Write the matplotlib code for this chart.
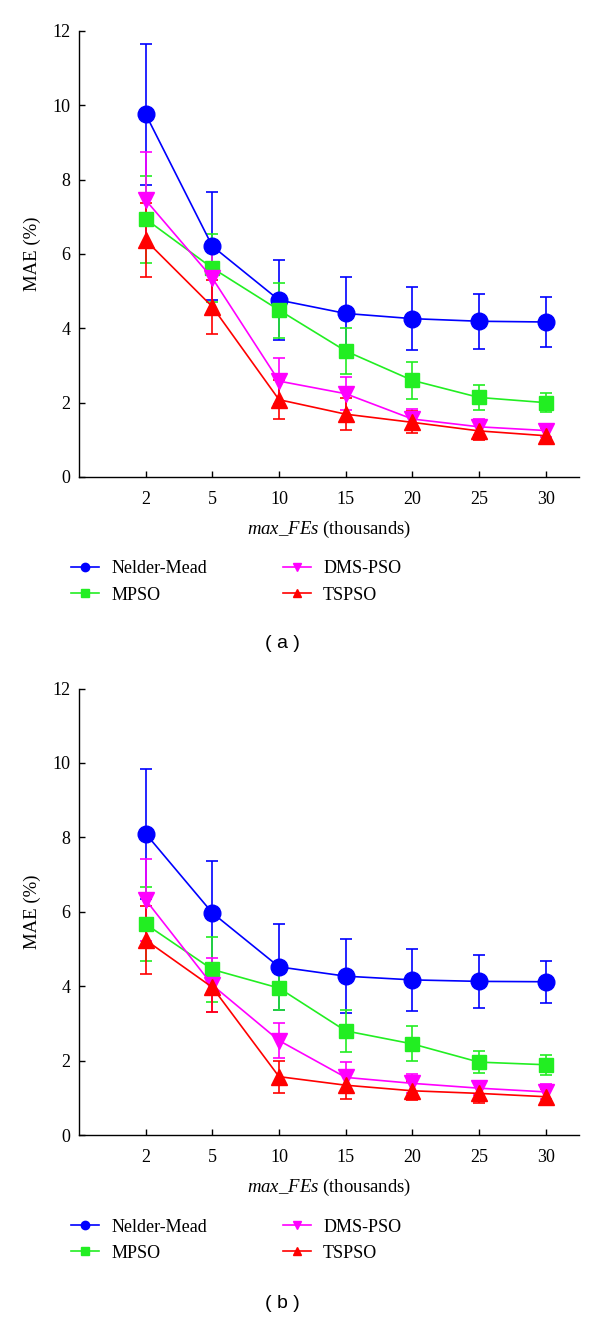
import matplotlib
matplotlib.use("Agg")
import matplotlib.pyplot as plt
import numpy as np

plt.rcParams['font.family'] = ['Liberation Serif', 'DejaVu Serif']
plt.rcParams['mathtext.fontset'] = 'custom'
plt.rcParams['mathtext.it'] = 'Liberation Serif:italic'
plt.rcParams['mathtext.rm'] = 'Liberation Serif'

categories = ['2', '5', '10', '15', '20', '25', '30']
series_names = ['Nelder-Mead', 'MPSO', 'DMS-PSO', 'TSPSO']

# Panel (a)
a_nm = [9.76, 6.21, 4.76, 4.40, 4.26, 4.19, 4.17]
a_nm_err = [1.90, 1.45, 1.08, 0.98, 0.85, 0.74, 0.66]
a_mpso = [6.94, 5.62, 4.49, 3.39, 2.60, 2.14, 2.00]
a_mpso_err = [1.17, 0.92, 0.74, 0.63, 0.50, 0.33, 0.25]
a_dms = [7.45, 5.35, 2.58, 2.24, 1.56, 1.35, 1.25]
a_dms_err = [1.30, 0.95, 0.62, 0.45, 0.28, 0.22, 0.18]
a_ts = [6.37, 4.58, 2.08, 1.69, 1.47, 1.24, 1.11]
a_ts_err = [1.00, 0.72, 0.52, 0.43, 0.30, 0.25, 0.22]

# Panel (b)
b_nm = [8.10, 5.97, 4.52, 4.27, 4.17, 4.13, 4.12]
b_nm_err = [1.75, 1.40, 1.15, 1.00, 0.84, 0.71, 0.57]
b_mpso = [5.67, 4.45, 3.95, 2.80, 2.45, 1.96, 1.89]
b_mpso_err = [1.00, 0.87, 0.60, 0.56, 0.47, 0.30, 0.27]
b_dms = [6.32, 4.03, 2.54, 1.55, 1.39, 1.26, 1.16]
b_dms_err = [1.10, 0.72, 0.46, 0.40, 0.26, 0.17, 0.20]
b_ts = [5.24, 3.97, 1.57, 1.34, 1.19, 1.12, 1.03]
b_ts_err = [0.92, 0.65, 0.43, 0.38, 0.26, 0.25, 0.22]

colors = ['#0000ff', '#22ee22', '#ff00ff', '#ff0000']
markers = ['o', 's', 'v', '^']
msizes = [12, 9.5, 11, 11]

fig = plt.figure(figsize=(6.0, 13.18), dpi=100)

def draw_panel(ax, data, errs):
    x = np.arange(len(categories))
    handles = []
    for vals, err, c, m, ms, name in zip(data, errs, colors, markers, msizes, series_names):
        ax.errorbar(x, vals, yerr=err, color=c, ecolor=c, elinewidth=1.2,
                    capsize=4, capthick=1.2, linewidth=1.2, marker=m,
                    markersize=ms, markeredgecolor=c, markerfacecolor=c)
        h, = ax.plot([], [], color=c, linewidth=1.2, marker=m, markersize=6,
                     markerfacecolor=c, markeredgecolor=c, label=name)
        handles.append(h)
    ax.set_xlim(-1, 6.5)
    ax.set_ylim(0, 12)
    ax.set_xticks(x)
    ax.set_xticklabels(categories)
    ax.set_yticks([0, 2, 4, 6, 8, 10, 12])
    ax.spines['top'].set_visible(False)
    ax.spines['right'].set_visible(False)
    ax.spines['left'].set_linewidth(1.0)
    ax.spines['bottom'].set_linewidth(1.0)
    ax.tick_params(axis='both', direction='in', length=4, width=1.0, labelsize=13)
    ax.tick_params(axis='x', pad=10)
    ax.tick_params(axis='y', pad=6)
    ax.set_ylabel('MAE (%)', fontsize=13.5, labelpad=8)
    ax.set_xlabel(r'$\mathit{max\_FEs}$ (thousands)', fontsize=13.5, labelpad=8)
    ax.legend(handles=handles, ncol=2, frameon=False, fontsize=13,
              loc='upper left', bbox_to_anchor=(-0.03, -0.171),
              handlelength=1.55, handletextpad=0.7, columnspacing=4.15,
              labelspacing=0.5, borderaxespad=0)
    return ax

ax1 = fig.add_axes([0.1317, 0.6381, 0.8333, 0.3384])
draw_panel(ax1, [a_nm, a_mpso, a_dms, a_ts], [a_nm_err, a_mpso_err, a_dms_err, a_ts_err])
fig.text(0.47, 1 - 643/1318, '( a )', ha='center', va='center', fontsize=14,
         family=['Liberation Sans', 'DejaVu Sans'])

ax2 = fig.add_axes([0.1317, 0.1388, 0.8333, 0.3388])
draw_panel(ax2, [b_nm, b_mpso, b_dms, b_ts], [b_nm_err, b_mpso_err, b_dms_err, b_ts_err])
fig.text(0.47, 1 - 1303/1318, '( b )', ha='center', va='center', fontsize=14,
         family=['Liberation Sans', 'DejaVu Sans'])

fig.savefig('out.png', dpi=100)
